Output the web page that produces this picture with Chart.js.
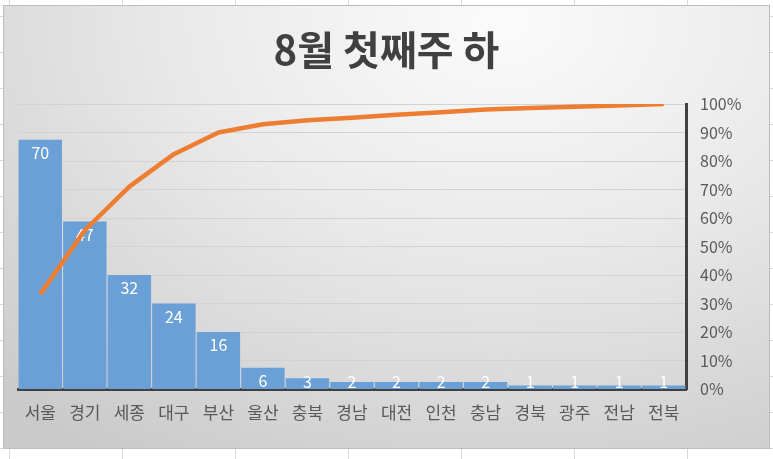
<!DOCTYPE html>
<html><head><meta charset="utf-8">
<script src="https://cdn.jsdelivr.net/npm/chart.js@4/dist/chart.umd.min.js"></script>
<style>
html,body{margin:0;padding:0;width:773px;height:459px;overflow:hidden;background:#fff;}
#sheet{position:absolute;left:0;top:0;width:773px;height:459px;
 background-image:linear-gradient(to right,#d9d9d9 1px,transparent 1px),linear-gradient(to bottom,#d9d9d9 1px,transparent 1px);
 background-size:113px 36px;background-position:9px 16px;}
#box{position:absolute;left:3px;top:5px;width:765px;height:442px;border:1px solid #bdbdbd;
 background:radial-gradient(ellipse 95% 115% at 65% 4%,#fbfbfb 0%,#e9e9e9 45%,#cacaca 100%);}
#wrap{position:absolute;left:0;top:0;width:765px;height:442px;}
</style></head>
<body>
<div id="sheet"></div>
<div id="box"><div id="wrap"><canvas id="c"></canvas></div></div>
<script>
const titleText = '8월 첫째주 하';
const categories = ['서울','경기','세종','대구','부산','울산','충북','경남','대전','인천','충남','경북','광주','전남','전북'];
const counts = [70,47,32,24,16,6,3,2,2,2,2,1,1,1,1];
const cumulativePct = [33.3,55.7,71.0,82.4,90.0,92.9,94.3,95.2,96.2,97.1,98.1,98.6,99.0,99.5,100];
const pctTicks = [0,10,20,30,40,50,60,70,80,90,100];

const FONT = '"Noto Sans CJK KR","Noto Sans",sans-serif';

const labelPlugin = {
  id: 'barLabels',
  afterDatasetDraw(chart, args) {
    if (args.index !== 0) return;
    const ctx = chart.ctx;
    ctx.save();
    ctx.fillStyle = '#ffffff';
    ctx.font = '16px ' + FONT;
    ctx.textAlign = 'center';
    ctx.textBaseline = 'middle';
    args.meta.data.forEach((el, i) => {
      const y = Math.min(el.y + 13, el.base - 7);
      ctx.fillText(String(counts[i]), el.x, y);
    });
    ctx.restore();
  }
};

new Chart(document.getElementById('c'), {
  data: {
    labels: categories,
    datasets: [
      {
        type: 'bar', data: counts, yAxisID: 'y', order: 1,
        backgroundColor: '#6aa0d6', borderWidth: 0,
        categoryPercentage: 1, barPercentage: 0.975
      },
      {
        type: 'line', data: cumulativePct, yAxisID: 'y1', order: 0,
        borderColor: '#ed7d31', borderWidth: 4.5, pointRadius: 0, tension: 0,
        borderCapStyle: 'butt', borderJoinStyle: 'round', fill: false
      }
    ]
  },
  options: {
    responsive: true, maintainAspectRatio: false, animation: false,
    layout: { padding: 0 },
    plugins: {
      legend: { display: false },
      tooltip: { enabled: false },
      title: {
        display: true, text: titleText, color: '#404040',
        font: { family: FONT, size: 40, weight: 'bold', lineHeight: 1.2 },
        padding: { top: 20, bottom: 30 }
      }
    },
    scales: {
      x: {
        grid: { display: false, drawTicks: false },
        border: { display: true, color: '#404040', width: 3 },
        ticks: { color: '#595959', font: { family: FONT, size: 17 }, padding: 13, maxRotation: 0, autoSkip: false },
        afterFit(s) { s.height = 59; }
      },
      y: {
        min: 0, max: 80,
        grid: { display: false, drawTicks: false },
        border: { display: false },
        ticks: { display: false },
        afterFit(s) { s.width = 14; }
      },
      y1: {
        position: 'right', min: 0, max: 100,
        afterBuildTicks(s) { s.ticks = pctTicks.map(v => ({ value: v })); },
        grid: { color: '#d2d2d2', lineWidth: 1, drawTicks: false },
        border: { display: true, color: '#404040', width: 3 },
        ticks: { color: '#595959', font: { family: FONT, size: 16 }, padding: 14, callback: v => v + '%' },
        afterFit(s) { s.width = 83; }
      }
    }
  },
  plugins: [labelPlugin]
});
</script>
</body></html>
